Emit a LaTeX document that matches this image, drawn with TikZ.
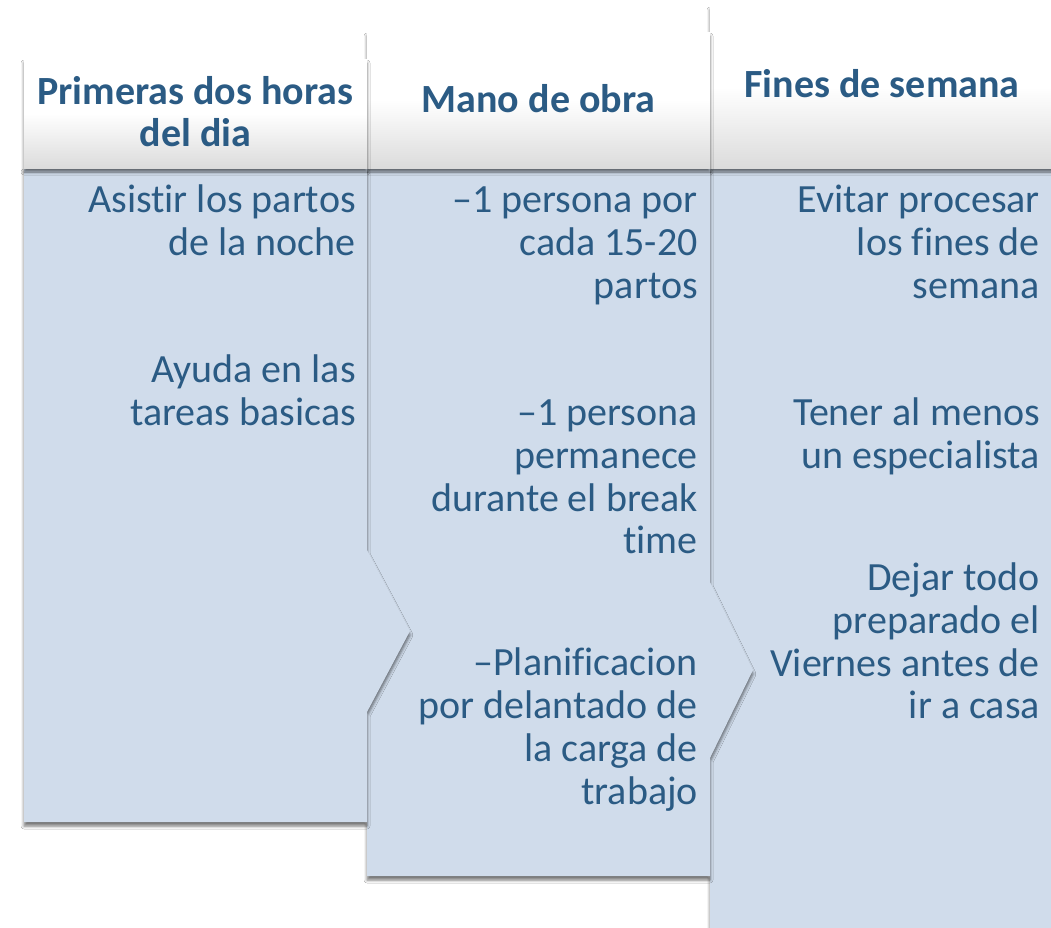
\documentclass[tikz,border=0pt]{standalone}
\usepackage{fontspec}
\setmainfont[RawFeature={-liga;-clig;-dlig}]{Carlito}
\usetikzlibrary{shadows,shadows.blur}
\definecolor{txt}{HTML}{2B5B84}
\definecolor{bodyfill}{HTML}{D0DCEB}
\begin{document}
\begin{tikzpicture}[x=1pt,y=-1pt,
  bodybox/.style={fill=bodyfill, blur shadow={shadow xshift=0pt, shadow yshift=-4pt, shadow blur radius=3pt, shadow opacity=55}},
  headbox/.style={top color=white, bottom color=black!14, middle color=white, blur shadow={shadow xshift=0pt, shadow yshift=-4pt, shadow blur radius=3pt, shadow opacity=55}},
  headtext/.style={font=\fontsize{40}{42}\selectfont\bfseries, text=txt, anchor=base, inner sep=0pt},
  bodytext/.style={font=\fontsize{40}{43}\selectfont, text=txt, anchor=base east, inner sep=0pt}]
\useasboundingbox (0,0) rectangle (1051,927);
\fill[white] (0,0) rectangle (1051,927);
% column 3
\path[bodybox] (710,168) -- (1060,168) -- (1060,940) -- (710,940) -- cycle;
\path[headbox] (710,6) rectangle (1060,168);
% column 2
\path[bodybox] (367,168) -- (710,168) -- (710,582) -- (753,670) -- (710,758) -- (710,876) -- (367,876) -- cycle;
\path[headbox] (367,32) rectangle (710,168);
% column 1
\path[bodybox] (24,168) -- (367,168) -- (367,550) -- (410,631) -- (367,712) -- (367,822) -- (24,822) -- cycle;
\path[headbox] (24,59) rectangle (367,168);
% headers
\node[headtext] (h1a) at (195.5,104) {Primeras dos horas};
\node[headtext] (h1b) at (195.5,146) {del dia};
\node[headtext] (h2) at (538.5,112) {Mano de obra};
\node[headtext] (h3) at (882,97) {Fines de semana};
% column 1 body
\node[bodytext] (a1) at (356,212) {Asistir los partos};
\node[bodytext] (a2) at (356,255) {de la noche};
\node[bodytext] (a3) at (356,382) {Ayuda en las};
\node[bodytext] (a4) at (356,425) {tareas basicas};
% column 2 body
\node[bodytext] (b1) at (698,212) {–1 persona por};
\node[bodytext] (b2) at (698,255) {cada 15-20};
\node[bodytext] (b3) at (698,298) {partos};
\node[bodytext] (b4) at (698,425) {–1 persona};
\node[bodytext] (b5) at (698,468) {permanece};
\node[bodytext] (b6) at (698,511) {durante el break};
\node[bodytext] (b7) at (698,553) {time};
\node[bodytext] (b8) at (698,675) {–Planificacion};
\node[bodytext] (b9) at (698,718) {por delantado de};
\node[bodytext] (b10) at (698,761) {la carga de};
\node[bodytext] (b11) at (698,804) {trabajo};
% column 3 body
\node[bodytext] (c1) at (1040,212) {Evitar procesar};
\node[bodytext] (c2) at (1040,255) {los fines de};
\node[bodytext] (c3) at (1040,298) {semana};
\node[bodytext] (c4) at (1040,425) {Tener al menos};
\node[bodytext] (c5) at (1040,468) {un especialista};
\node[bodytext] (c6) at (1040,590) {Dejar todo};
\node[bodytext] (c7) at (1040,633) {preparado el};
\node[bodytext] (c8) at (1040,676) {Viernes antes de};
\node[bodytext] (c9) at (1040,718) {ir a casa};
\end{tikzpicture}
\end{document}
